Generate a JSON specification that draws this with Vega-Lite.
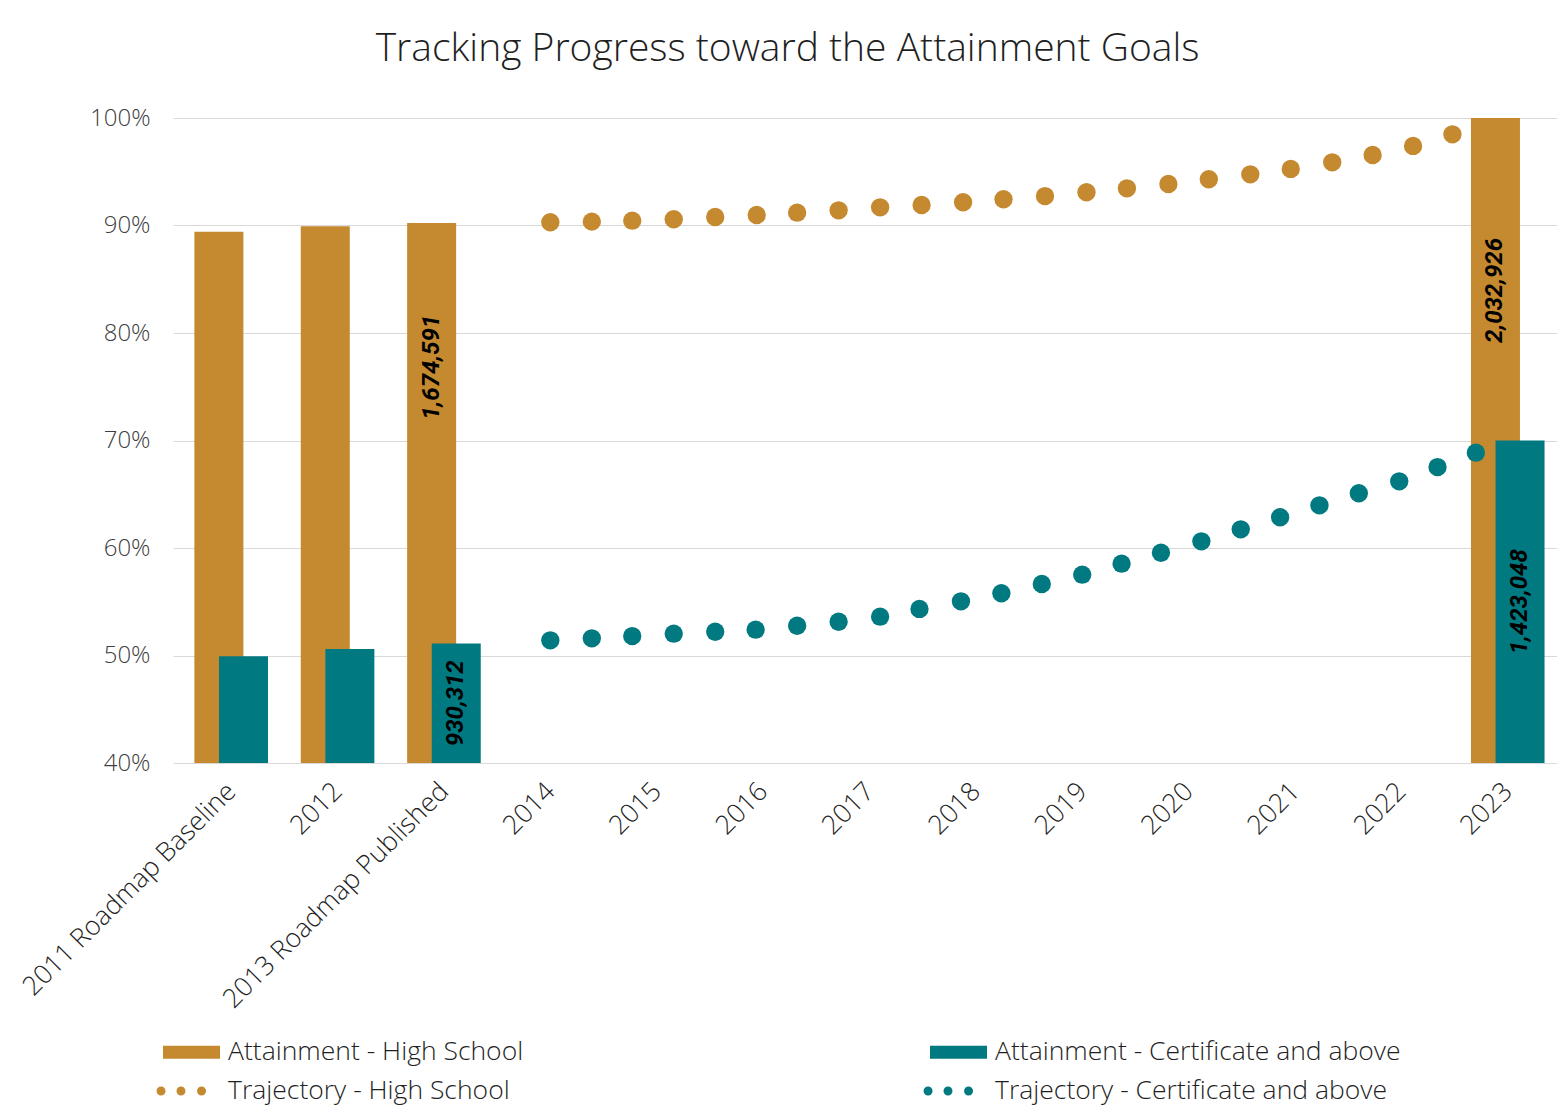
{
  "$schema": "https://vega.github.io/schema/vega-lite/v6.json",
  "width": 1384,
  "height": 645,
  "autosize": {"type": "none"},
  "padding": {"left": 173, "top": 118, "right": 0, "bottom": 346},
  "background": "white",
  "title": {
    "text": "Tracking Progress toward the Attainment Goals",
    "frame": "bounds",
    "anchor": "middle",
    "font": "Open Sans",
    "fontWeight": 300,
    "fontSize": 39,
    "color": "#1f1f1f",
    "offset": 37
  },
  "data": {
    "values": [
      {"x": 2011, "series": "Attainment - High School", "value": 89.43},
      {"x": 2012, "series": "Attainment - High School", "value": 89.93},
      {"x": 2013, "series": "Attainment - High School", "value": 90.24, "count": 1674591},
      {"x": 2023, "series": "Attainment - High School", "value": 100, "count": 2032926},
      {"x": 2011, "series": "Attainment - Certificate and above", "value": 49.93},
      {"x": 2012, "series": "Attainment - Certificate and above", "value": 50.61},
      {"x": 2013, "series": "Attainment - Certificate and above", "value": 51.12, "count": 930312},
      {"x": 2023, "series": "Attainment - Certificate and above", "value": 70.0, "count": 1423048},
      {"x": 2014.00, "series": "Trajectory - High School", "value": 90.30},
      {"x": 2014.39, "series": "Trajectory - High School", "value": 90.36},
      {"x": 2014.77, "series": "Trajectory - High School", "value": 90.45},
      {"x": 2015.16, "series": "Trajectory - High School", "value": 90.58},
      {"x": 2015.55, "series": "Trajectory - High School", "value": 90.79},
      {"x": 2015.94, "series": "Trajectory - High School", "value": 90.98},
      {"x": 2016.32, "series": "Trajectory - High School", "value": 91.19},
      {"x": 2016.71, "series": "Trajectory - High School", "value": 91.41},
      {"x": 2017.10, "series": "Trajectory - High School", "value": 91.69},
      {"x": 2017.49, "series": "Trajectory - High School", "value": 91.91},
      {"x": 2017.88, "series": "Trajectory - High School", "value": 92.16},
      {"x": 2018.26, "series": "Trajectory - High School", "value": 92.44},
      {"x": 2018.65, "series": "Trajectory - High School", "value": 92.74},
      {"x": 2019.04, "series": "Trajectory - High School", "value": 93.09},
      {"x": 2019.42, "series": "Trajectory - High School", "value": 93.46},
      {"x": 2019.81, "series": "Trajectory - High School", "value": 93.86},
      {"x": 2020.19, "series": "Trajectory - High School", "value": 94.30},
      {"x": 2020.58, "series": "Trajectory - High School", "value": 94.76},
      {"x": 2020.96, "series": "Trajectory - High School", "value": 95.26},
      {"x": 2021.35, "series": "Trajectory - High School", "value": 95.88},
      {"x": 2021.73, "series": "Trajectory - High School", "value": 96.56},
      {"x": 2022.11, "series": "Trajectory - High School", "value": 97.40},
      {"x": 2022.48, "series": "Trajectory - High School", "value": 98.48},
      {"x": 2014.00, "series": "Trajectory - Certificate and above", "value": 51.41},
      {"x": 2014.39, "series": "Trajectory - Certificate and above", "value": 51.60},
      {"x": 2014.77, "series": "Trajectory - Certificate and above", "value": 51.81},
      {"x": 2015.16, "series": "Trajectory - Certificate and above", "value": 52.03},
      {"x": 2015.55, "series": "Trajectory - Certificate and above", "value": 52.21},
      {"x": 2015.93, "series": "Trajectory - Certificate and above", "value": 52.40},
      {"x": 2016.32, "series": "Trajectory - Certificate and above", "value": 52.77},
      {"x": 2016.71, "series": "Trajectory - Certificate and above", "value": 53.14},
      {"x": 2017.10, "series": "Trajectory - Certificate and above", "value": 53.61},
      {"x": 2017.47, "series": "Trajectory - Certificate and above", "value": 54.33},
      {"x": 2017.86, "series": "Trajectory - Certificate and above", "value": 55.04},
      {"x": 2018.24, "series": "Trajectory - Certificate and above", "value": 55.79},
      {"x": 2018.62, "series": "Trajectory - Certificate and above", "value": 56.65},
      {"x": 2019.00, "series": "Trajectory - Certificate and above", "value": 57.52},
      {"x": 2019.37, "series": "Trajectory - Certificate and above", "value": 58.54},
      {"x": 2019.74, "series": "Trajectory - Certificate and above", "value": 59.56},
      {"x": 2020.12, "series": "Trajectory - Certificate and above", "value": 60.62},
      {"x": 2020.49, "series": "Trajectory - Certificate and above", "value": 61.74},
      {"x": 2020.86, "series": "Trajectory - Certificate and above", "value": 62.86},
      {"x": 2021.23, "series": "Trajectory - Certificate and above", "value": 63.97},
      {"x": 2021.60, "series": "Trajectory - Certificate and above", "value": 65.09},
      {"x": 2021.98, "series": "Trajectory - Certificate and above", "value": 66.20},
      {"x": 2022.34, "series": "Trajectory - Certificate and above", "value": 67.53},
      {"x": 2022.70, "series": "Trajectory - Certificate and above", "value": 68.87}
    ]
  },
  "encoding": {
    "x": {
      "field": "x",
      "type": "quantitative",
      "scale": {"domain": [2010.5, 2023.416], "nice": false, "zero": false},
      "axis": {
        "values": [2011, 2012, 2013, 2014, 2015, 2016, 2017, 2018, 2019, 2020, 2021, 2022, 2023],
        "labelExpr": "datum.value == 2011 ? '2011 Roadmap Baseline' : (datum.value == 2013 ? '2013 Roadmap Published' : ('' + datum.value))",
        "labelAngle": -45,
        "labelAlign": "right",
        "labelBaseline": "middle",
        "labelFont": "Open Sans",
        "labelFontWeight": 300,
        "labelFontSize": 26.5,
        "labelColor": "#1f1f1f",
        "labelPadding": 24,
        "labelOverlap": false,
        "labelFlush": false,
        "labelBound": false,
        "labelLimit": 0,
        "ticks": false,
        "grid": false,
        "domain": false,
        "title": null
      }
    }
  },
  "layer": [
    {
      "transform": [{"filter": {"field": "series", "equal": "Attainment - High School"}}],
      "mark": {"type": "bar", "width": 49, "xOffset": -12.3, "color": "#C5892F"},
      "encoding": {
        "y": {
          "field": "value",
          "type": "quantitative",
          "scale": {"domain": [40, 100], "nice": false, "zero": false},
          "axis": {
            "values": [40, 50, 60, 70, 80, 90, 100],
            "labelExpr": "datum.value + '%'",
            "labelFont": "Open Sans",
            "labelFontWeight": 300,
            "labelFontSize": 24,
            "labelColor": "#404040",
            "labelPadding": 23,
            "ticks": false,
            "domain": false,
            "grid": true,
            "gridColor": "#D9D9D9",
            "gridWidth": 1,
            "title": null
          }
        },
        "y2": {"datum": 40}
      }
    },
    {
      "transform": [{"filter": {"field": "series", "equal": "Attainment - Certificate and above"}}],
      "mark": {"type": "bar", "width": 49, "xOffset": 12.3, "color": "#007A80"},
      "encoding": {
        "y": {"field": "value", "type": "quantitative", "scale": {"domain": [40, 100], "nice": false, "zero": false}, "axis": null},
        "y2": {"datum": 40}
      }
    },
    {
      "transform": [{"filter": {"field": "series", "equal": "Trajectory - High School"}}],
      "mark": {"type": "point", "filled": true, "size": 336, "opacity": 1, "color": "#C5892F"},
      "encoding": {
        "y": {"field": "value", "type": "quantitative", "scale": {"domain": [40, 100], "nice": false, "zero": false}, "axis": null}
      }
    },
    {
      "transform": [{"filter": {"field": "series", "equal": "Trajectory - Certificate and above"}}],
      "mark": {"type": "point", "filled": true, "size": 336, "opacity": 1, "color": "#007A80"},
      "encoding": {
        "y": {"field": "value", "type": "quantitative", "scale": {"domain": [40, 100], "nice": false, "zero": false}, "axis": null}
      }
    },
    {
      "transform": [
        {"filter": {"field": "series", "equal": "Attainment - High School"}},
        {"filter": "isValid(datum.count)"}
      ],
      "mark": {"type": "text", "angle": 270, "align": "center", "baseline": "middle", "xOffset": -12.3, "font": "Roboto", "fontSize": 24, "fontWeight": "bold", "fontStyle": "italic", "color": "#000000"},
      "encoding": {
        "y": {"field": "value", "type": "quantitative", "scale": {"domain": [40, 121.9], "nice": false, "zero": false}, "axis": null},
        "text": {"field": "count", "type": "quantitative", "format": ","}
      }
    },
    {
      "transform": [
        {"filter": {"field": "series", "equal": "Attainment - Certificate and above"}},
        {"filter": "isValid(datum.count)"}
      ],
      "mark": {"type": "text", "angle": 270, "align": "center", "baseline": "middle", "xOffset": 12.3, "font": "Roboto", "fontSize": 24, "fontWeight": "bold", "fontStyle": "italic", "color": "#000000"},
      "encoding": {
        "y": {"field": "value", "type": "quantitative", "scale": {"domain": [40, 160], "nice": false, "zero": false}, "axis": null},
        "text": {"field": "count", "type": "quantitative", "format": ","}
      }
    },
    {
      "mark": {"type": "point", "filled": true, "opacity": 0},
      "encoding": {
        "y": {"field": "value", "type": "quantitative", "scale": {"domain": [40, 100], "nice": false, "zero": false}, "axis": null},
        "color": {
          "field": "series",
          "type": "nominal",
          "scale": {
            "domain": ["Attainment - High School", "Attainment - Certificate and above", "Trajectory - High School", "Trajectory - Certificate and above"],
            "range": ["#C5892F", "#007A80", "#C5892F", "#007A80"]
          },
          "legend": {
            "title": null,
            "orient": "none",
            "direction": "horizontal",
            "legendX": 3.5,
            "legendY": 919,
            "columns": 2,
            "columnPadding": 400,
            "rowPadding": 10,
            "padding": 0,
            "symbolSize": 900,
            "symbolStrokeWidth": 0,
            "symbolOpacity": 1,
            "labelOffset": 21.5,
            "labelFont": "Open Sans",
            "labelFontWeight": 300,
            "labelFontSize": 26.5,
            "labelColor": "#1f1f1f",
            "labelLimit": 0
          }
        },
        "shape": {
          "field": "series",
          "type": "nominal",
          "scale": {
            "domain": ["Attainment - High School", "Attainment - Certificate and above", "Trajectory - High School", "Trajectory - Certificate and above"],
            "range": [
              "M-1.9,-0.43H1.9V0.43H-1.9Z",
              "M-1.9,-0.43H1.9V0.43H-1.9Z",
              "M-2.33,0a0.3,0.3 0 1,0 0.6,0a0.3,0.3 0 1,0 -0.6,0M-1,0a0.3,0.3 0 1,0 0.6,0a0.3,0.3 0 1,0 -0.6,0M0.37,0a0.3,0.3 0 1,0 0.6,0a0.3,0.3 0 1,0 -0.6,0",
              "M-2.33,0a0.3,0.3 0 1,0 0.6,0a0.3,0.3 0 1,0 -0.6,0M-1,0a0.3,0.3 0 1,0 0.6,0a0.3,0.3 0 1,0 -0.6,0M0.37,0a0.3,0.3 0 1,0 0.6,0a0.3,0.3 0 1,0 -0.6,0"
            ]
          },
          "legend": {
            "title": null,
            "orient": "none",
            "direction": "horizontal",
            "legendX": 3.5,
            "legendY": 919,
            "columns": 2,
            "columnPadding": 400,
            "rowPadding": 10,
            "padding": 0,
            "symbolSize": 900,
            "symbolStrokeWidth": 0,
            "symbolOpacity": 1,
            "labelOffset": 21.5,
            "labelFont": "Open Sans",
            "labelFontWeight": 300,
            "labelFontSize": 26.5,
            "labelColor": "#1f1f1f",
            "labelLimit": 0
          }
        }
      }
    }
  ],
  "resolve": {"scale": {"y": "independent"}},
  "config": {
    "view": {"stroke": null},
    "font": "Open Sans"
  }
}
